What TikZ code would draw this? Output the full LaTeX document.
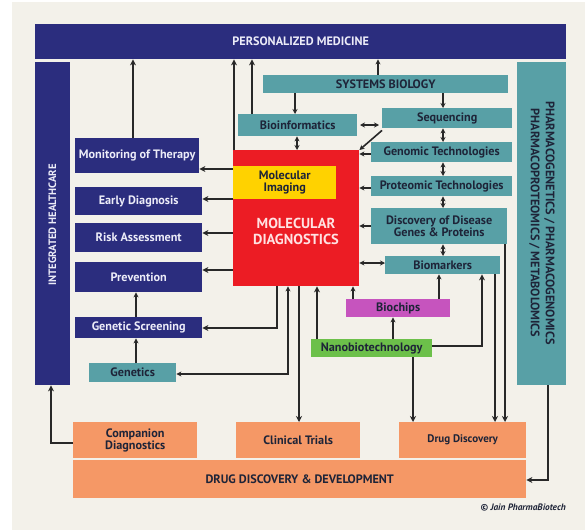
\documentclass[tikz,border=0pt]{standalone}
\usepackage{fontspec}
\setmainfont{PT Sans}
\usetikzlibrary{arrows.meta,calc}
\definecolor{navybox}{RGB}{43,45,126}
\definecolor{tealbox}{RGB}{88,160,166}
\definecolor{redbox}{RGB}{236,28,36}
\definecolor{yellowbox}{RGB}{255,210,0}
\definecolor{magbox}{RGB}{198,84,190}
\definecolor{greenbox}{RGB}{108,192,74}
\definecolor{orangebox}{RGB}{245,152,102}
\definecolor{bgc}{RGB}{243,241,234}
\definecolor{navytext}{RGB}{236,236,248}
\definecolor{darktext}{RGB}{30,36,56}
\definecolor{mdtext}{RGB}{255,226,226}
\definecolor{arrowc}{RGB}{40,40,40}
\newcommand\mkbox[7]{\node[#2, anchor=north west, minimum width={(#5-#3)*1pt}, minimum height={(#6-#4)*1pt}] (#1) at (#3,#4) {#7};}
\begin{document}
\begin{tikzpicture}[x=1pt,y=-1pt,
  lbl/.style={inner sep=0pt, align=center, font=\bfseries\fontsize{12.2}{12.5}\selectfont},
  nv/.style={lbl, fill=navybox, text=navytext},
  tl/.style={lbl, fill=tealbox, text=darktext},
  rd/.style={lbl, fill=redbox},
  yl/.style={lbl, fill=yellowbox, text=darktext},
  mg/.style={lbl, fill=magbox, text=darktext},
  gr/.style={lbl, fill=greenbox, text=darktext},
  og/.style={lbl, fill=orangebox, text=darktext},
  arr/.style={draw=arrowc, line width=1.8pt, -{Stealth[length=6pt,width=6pt]}},
  sarr/.style={draw=arrowc, line width=1.6pt, -{Stealth[length=5pt,width=5pt]}},
  darr/.style={draw=arrowc, line width=1.6pt, {Stealth[length=5pt,width=5pt]}-{Stealth[length=5pt,width=5pt]}}
]
\fill[white] (0,0) rectangle (585,530);
\fill[bgc] (12,2) rectangle (585,530);
\useasboundingbox (0,0) rectangle (585,530);

\mkbox{pm}{nv}{35}{24}{566}{59}{PERSONALIZED MEDICINE}
\mkbox{ih}{nv}{35}{62}{70}{385}{}
\mkbox{ph}{tl}{517}{62}{566}{385}{}
\mkbox{sb}{tl}{263}{75}{508}{93}{SYSTEMS BIOLOGY}
\mkbox{bi}{tl}{238}{114}{357}{136}{Bioinformatics}
\mkbox{seq}{tl}{382}{108}{512}{128}{Sequencing}
\mkbox{gen}{tl}{371}{142}{512}{162}{Genomic Technologies}
\mkbox{prot}{tl}{371}{176}{512}{196}{Proteomic Technologies}
\mkbox{disc}{tl}{371}{208}{507}{244}{Discovery of Disease\\Genes \& Proteins}
\mkbox{bm}{tl}{385}{256}{500}{274}{Biomarkers}
\mkbox{bc}{mg}{346}{299}{450}{317}{Biochips}
\mkbox{nano}{gr}{311}{339}{432}{357}{Nanobiotechnology}
\mkbox{md}{rd}{233}{150}{359}{286}{}
\mkbox{mi}{yl}{233}{166}{336}{199}{Molecular\\Imaging}
\mkbox{mon}{nv}{75}{138}{199}{173}{Monitoring of Therapy}
\mkbox{ed}{nv}{75}{187}{202}{215}{Early Diagnosis}
\mkbox{ra}{nv}{75}{223}{202}{252}{Risk Assessment}
\mkbox{pre}{nv}{75}{262}{202}{292}{Prevention}
\mkbox{gs}{nv}{75}{317}{202}{338}{Genetic Screening}
\mkbox{gn}{tl}{89}{363}{176}{382}{Genetics}
\mkbox{cd}{og}{73}{422}{197}{458}{Companion\\Diagnostics}
\mkbox{ct}{og}{236}{422}{360}{458}{Clinical Trials}
\mkbox{dd}{og, font=\bfseries\fontsize{11}{12}\selectfont}{399}{422}{526}{458}{Drug Discovery}
\mkbox{ddd}{og}{73}{460}{526}{498}{DRUG DISCOVERY \& DEVELOPMENT}

\node[lbl, text=mdtext, font=\bfseries\fontsize{14.5}{16}\selectfont] (mdl) at (296,231) {MOLECULAR\\DIAGNOSTICS};
\node[lbl, rotate=90, text=navytext, font=\bfseries\fontsize{10.7}{12}\selectfont] (ihl) at (52.5,225) {INTEGRATED HEALTHCARE};
\node[lbl, rotate=-90, text=darktext, font=\bfseries\fontsize{12.3}{15}\selectfont] (phl) at (542,223) {PHARMACOGENETICS / PHARMACOGENOMICS\\PHARMACOPROTEOMICS / METABOLOMICS};
\node[inner sep=0pt, anchor=east, text=darktext, font=\bfseries\itshape\fontsize{9.3}{10}\selectfont] (copy) at (566,508) {\textcopyright{} Jain PharmaBiotech};

% arrows to personalized medicine
\draw[arr] (mon.north -| 133,0) -- (pm.south -| 133,0);
\draw[arr] (md.north -| 234,0) -- (pm.south -| 234,0);
\draw[arr] (bi.north -| 252,0) -- (pm.south -| 252,0);
\draw[sarr] (sb.north -| 378,0) -- (pm.south -| 378,0);
% systems biology
\draw[sarr] (sb.south -| 295,0) -- (bi.north -| 295,0);
\draw[sarr] (sb.south -| 443,0) -- (seq.north -| 443,0);
\draw[darr] (360,125) -- (379,125);
\draw[darr] (bi.south -| 297,0) -- (md.north -| 297,0);
\draw[sarr] ($(seq.south west)+(0,2)$) -- (md.north east);
% chain
\draw[darr] (seq.south -| 443,0) -- (gen.north -| 443,0);
\draw[darr] (gen.south -| 443,0) -- (prot.north -| 443,0);
\draw[darr] (prot.south -| 443,0) -- (disc.north -| 443,0);
\draw[darr] (disc.south -| 443,0) -- (bm.north -| 443,0);
% into molecular diagnostics
\draw[sarr] (gen.west |- 0,154) -- (md.east |- 0,154);
\draw[sarr] (prot.west |- 0,188) -- (md.east |- 0,188);
\draw[sarr] (disc.west |- 0,226) -- (md.east |- 0,226);
\draw[darr] (bm.west |- 0,263) -- (md.east |- 0,263);
% out to left
\draw[arr] (md.west |- 0,169) -- (mon.east |- 0,169);
\draw[arr] (md.west |- 0,199) -- (ed.east |- 0,199);
\draw[arr] (md.west |- 0,233) -- (ra.east |- 0,233);
\draw[arr] (md.west |- 0,270) -- (pre.east |- 0,270);
\draw[sarr] (gs.north -| 136,0) -- (pre.south -| 136,0);
\draw[sarr] (gn.north -| 136,0) -- (gs.south -| 136,0);
\draw[arr] (md.south -| 277,0) |- (gs.east |- 0,328);
\draw[darr] (gn.east |- 0,374) -| (md.south -| 288,0);
% downward
\draw[arr] (md.south -| 299,0) -- (ct.north -| 299,0);
\draw[arr] (nano.north -| 317,0) -- (md.south -| 317,0);
\draw[sarr] (bc.north -| 353,0) -- (md.south -| 353,0);
\draw[sarr] (nano.north -| 393,0) -- (bc.south -| 393,0);
\draw[sarr] (bc.north -| 439,0) -- (bm.south -| 439,0);
\draw[arr] (nano.east |- 0,346) -| (bm.south -| 482,0);
\draw[arr] (nano.south -| 413,0) -- (dd.north -| 413,0);
\draw[arr] (bm.south -| 495,0) -- (dd.north -| 495,0);
\draw[arr] (disc.south -| 505,0) -- (dd.north -| 505,0);
\draw[arr] (ph.south -| 548,0) |- (ddd.east |- 0,480);
\draw[arr] (cd.west |- 0,443) -| (ih.south -| 51,0);
\end{tikzpicture}
\end{document}
